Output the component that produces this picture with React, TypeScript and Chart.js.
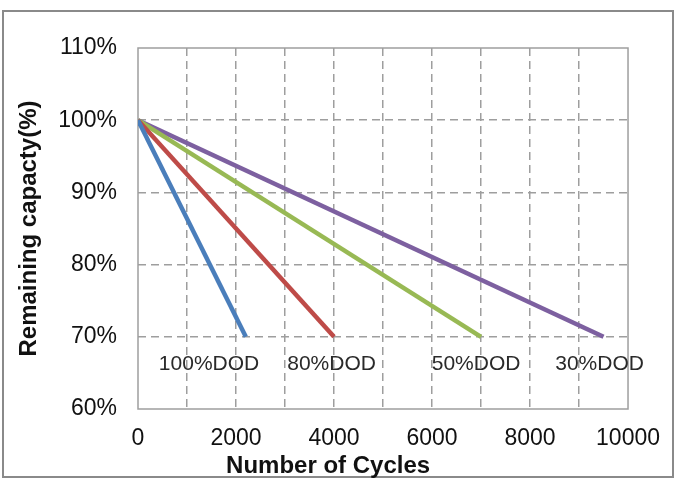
import React, { useEffect, useRef } from "react";
import { Chart, registerables } from "chart.js";

Chart.register(...registerables);

const dodLabels = ["100%DOD", "80%DOD", "50%DOD", "30%DOD"];
const endCycles = [2200, 4000, 7000, 9500];
const startCapacity = 100;
const endCapacity = 70;
const lineColors = ["#4a7ebb", "#be4b48", "#98b954", "#7d60a0"];
const labelCycles = [1450, 3950, 6900, 9420];
const labelCapacity = 66.2;
const xTickStep = 1000;
const xLabelStep = 2000;
const yTicks = [60, 70, 80, 90, 100, 110];
const xTitle = "Number of Cycles";
const yTitle = "Remaining capacty(%)";

const FONT = "'Liberation Sans', Arial, sans-serif";
const GRID = "#9e9e9e";

export default function App() {
  const ref = useRef<HTMLCanvasElement | null>(null);

  useEffect(() => {
    const canvas = ref.current;
    if (!canvas) return;

    const framePlugin = {
      id: "frame",
      beforeDraw(chart: any) {
        const ctx = chart.ctx;
        ctx.save();
        ctx.fillStyle = "#ffffff";
        ctx.fillRect(0, 0, chart.width, chart.height);
        ctx.strokeStyle = "#8a8a8a";
        ctx.lineWidth = 2;
        ctx.strokeRect(3, 11, 670, 466);
        ctx.restore();
      },
      beforeDatasetsDraw(chart: any) {
        const { ctx, chartArea } = chart;
        ctx.save();
        ctx.strokeStyle = GRID;
        ctx.lineWidth = 1.5;
        ctx.setLineDash([]);
        ctx.strokeRect(chartArea.left, chartArea.top, chartArea.right - chartArea.left, chartArea.bottom - chartArea.top);
        ctx.restore();
      },
      afterDatasetsDraw(chart: any) {
        const { ctx, scales, chartArea } = chart;
        ctx.save();
        ctx.fillStyle = "#2a2a2a";
        ctx.font = `21px ${FONT}`;
        ctx.textAlign = "center";
        ctx.textBaseline = "middle";
        dodLabels.forEach((t, i) => {
          ctx.fillText(t, scales.x.getPixelForValue(labelCycles[i]), scales.y.getPixelForValue(labelCapacity));
        });
        ctx.fillStyle = "#111";
        ctx.font = `bold 24px ${FONT}`;
        ctx.fillText(xTitle, scales.x.getPixelForValue(3880), chartArea.bottom + 57);
        ctx.restore();
      },
    };

    const chart = new Chart(canvas, {
      type: "line",
      data: {
        datasets: dodLabels.map((lbl, i) => ({
          label: lbl,
          data: [
            { x: 0, y: startCapacity },
            { x: endCycles[i], y: endCapacity },
          ],
          borderColor: lineColors[i],
          backgroundColor: lineColors[i],
          borderWidth: 4.5,
          pointRadius: 0,
          tension: 0,
        })),
      },
      options: {
        animation: false,
        responsive: false,
        devicePixelRatio: 1,
        layout: { padding: { left: 4, top: 48, right: 46, bottom: 0 } },
        plugins: { legend: { display: false }, tooltip: { enabled: false } },
        scales: {
          x: {
            type: "linear",
            min: 0,
            max: 10000,
            afterFit(scale: any) {
              scale.height = 69;
            },
            ticks: {
              stepSize: xTickStep,
              autoSkip: false,
              maxRotation: 0,
              padding: 16,
              color: "#111",
              font: { family: FONT, size: 23 },
              callback: (v: any) => (Number(v) % xLabelStep === 0 ? String(v) : ""),
            },
            grid: {
              drawTicks: false,
              color: (c: any) => (c.tick && (c.tick.value === 0 || c.tick.value === 10000) ? "rgba(0,0,0,0)" : GRID),
              lineWidth: 1.5,
            },
            border: { display: false, dash: [8, 5] },
            title: { display: false },
          },
          y: {
            type: "linear",
            min: 60,
            max: 110,
            afterFit(scale: any) {
              scale.width = 134;
            },
            afterBuildTicks(scale: any) {
              scale.ticks = yTicks.map((v) => ({ value: v }));
            },
            ticks: {
              padding: 21,
              color: "#111",
              font: { family: FONT, size: 23 },
              callback: (v: any) => `${v}%`,
            },
            grid: {
              drawTicks: false,
              color: (c: any) => (c.tick && (c.tick.value === 60 || c.tick.value === 110) ? "rgba(0,0,0,0)" : GRID),
              lineWidth: 1.5,
            },
            border: { display: false, dash: [8, 5] },
            title: {
              display: true,
              text: yTitle,
              color: "#111",
              font: { family: FONT, size: 24, weight: "bold" },
              padding: { top: 11, bottom: 0 },
            },
          },
        },
      } as any,
      plugins: [framePlugin],
    });

    return () => chart.destroy();
  }, []);

  return (
    <div style={{ position: "absolute", left: 0, top: 0, width: 676, height: 478 }}>
      <canvas ref={ref} width={676} height={478} style={{ width: 676, height: 478, display: "block" }} />
    </div>
  );
}
